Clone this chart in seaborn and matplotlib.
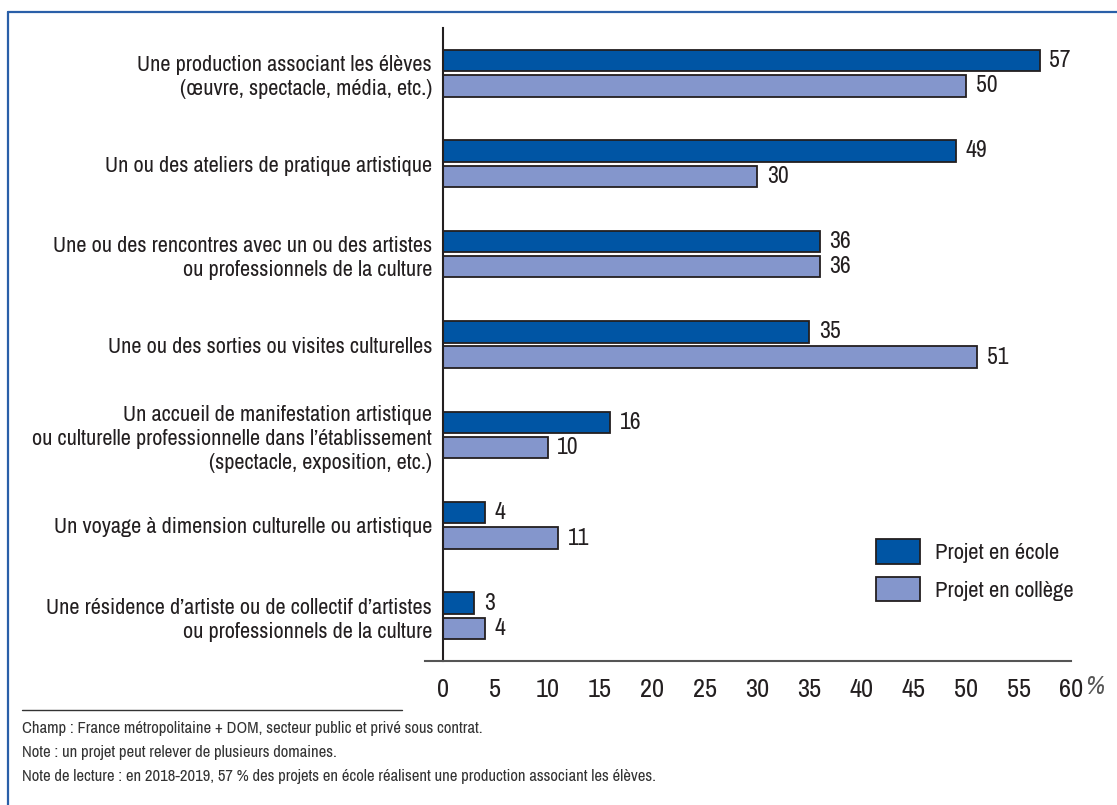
import matplotlib
matplotlib.use("Agg")
import matplotlib.pyplot as plt
import seaborn as sns
import pandas as pd
from matplotlib.patches import Patch
from matplotlib.lines import Line2D
from matplotlib import font_manager

sns.set_theme(style="white")

# find a condensed face if any
cond_family, cond_stretch = None, "normal"
for f in font_manager.fontManager.ttflist:
    n = f.name.lower()
    if "narrow" in n or "condensed" in n:
        cond_family = f.name
        break
if cond_family is None:
    for f in font_manager.fontManager.ttflist:
        if str(f.stretch) in ("condensed", "semi-condensed", "extra-condensed", "ultra-condensed") \
                or (isinstance(f.stretch, int) and f.stretch < 500):
            cond_family, cond_stretch = f.name, f.stretch
            break

if cond_family:
    FONT = cond_family
    sizes = dict(lab=16, tick=19, val=17, leg=16.3, note=12)
else:
    FONT = "DejaVu Sans"
    sizes = dict(lab=11.6, tick=13.5, val=12, leg=13, note=9)
plt.rcParams['font.family'] = [FONT, 'DejaVu Sans']
plt.rcParams['font.stretch'] = cond_stretch

categories = [
    "Une production associant les élèves\n(œuvre, spectacle, média, etc.)",
    "Un ou des ateliers de pratique artistique",
    "Une ou des rencontres avec un ou des artistes\nou professionnels de la culture",
    "Une ou des sorties ou visites culturelles",
    "Un accueil de manifestation artistique\nou culturelle professionnelle dans l’établissement\n(spectacle, exposition, etc.)",
    "Un voyage à dimension culturelle ou artistique",
    "Une résidence d’artiste ou de collectif d’artistes\nou professionnels de la culture",
]
series_names = ["Projet en école", "Projet en collège"]
ecole = [57, 49, 36, 35, 16, 4, 3]
college = [50, 30, 36, 51, 10, 11, 4]
x_ticks = list(range(0, 61, 5))
notes = [
    "Champ : France métropolitaine + DOM, secteur public et privé sous contrat.",
    "Note : un projet peut relever de plusieurs domaines.",
    "Note de lecture : en 2018-2019, 57 % des projets en école réalisent une production associant les élèves.",
]

colors = ["#0055a4", "#8496cc"]
ink = "#231f20"

df = pd.DataFrame({
    "cat": categories * 2,
    "val": ecole + college,
    "serie": [series_names[0]] * len(categories) + [series_names[1]] * len(categories),
})

fig = plt.figure(figsize=(11.17, 8.05), dpi=100)
ax = fig.add_axes([443/1117, 1-661/805, 628/1117, 633/805])

sns.barplot(data=df, y="cat", x="val", hue="serie", order=categories,
            hue_order=series_names, palette=colors, saturation=1, orient="h",
            width=0.56, gap=0.15, edgecolor=ink, linewidth=1.3,
            legend=False, ax=ax)

for cont in ax.containers:
    ax.bar_label(cont, padding=7, fontsize=sizes["val"], color=ink)

ax.set_xlim(0, 60)
ax.set_ylim(len(categories) - 0.5, -0.5)
ax.set_xticks(x_ticks)
ax.set_xticklabels([str(t) for t in x_ticks], fontsize=sizes["tick"], color=ink)
ax.set_xlabel("")
ax.set_ylabel("")
ax.tick_params(axis="y", which="major", length=0, pad=8, labelsize=sizes["lab"], labelcolor=ink)
ax.set_yticks([i - 0.5 for i in range(len(categories) + 1)], minor=True)
ax.tick_params(axis="y", which="minor", length=8, width=1.2, color=ink, direction="out")
ax.tick_params(axis="x", which="major", length=8, width=1.2, color=ink, direction="out", pad=4)
for lbl in ax.get_yticklabels():
    lbl.set_multialignment("right")
    lbl.set_linespacing(1.25)
for s in ["top", "right"]:
    ax.spines[s].set_visible(False)
ax.spines["left"].set_color(ink)
ax.spines["left"].set_linewidth(1.5)
ax.spines["bottom"].set_color("#555555")
ax.spines["bottom"].set_linewidth(1.5)
ax.spines["bottom"].set_bounds(-1.7, 60)
ax.grid(False)

ax.text(1.022, -0.022, "%", transform=ax.transAxes, fontsize=sizes["tick"], color="#555555",
        ha="left", va="top", style="italic")

handles = [Patch(facecolor=c, edgecolor=ink, linewidth=1.3) for c in colors]
ax.legend(handles, series_names, loc="upper left", bbox_to_anchor=(0.69, 0.192),
          frameon=False, fontsize=sizes["leg"], handlelength=1.95, handleheight=1.3,
          labelspacing=0.55, handletextpad=0.65, borderpad=0, borderaxespad=0,
          labelcolor=ink)

# footnotes
fig.add_artist(Line2D([22/1117, 402/1117], [1-710/805, 1-710/805], color="#333333", lw=1))
for i, t in enumerate(notes):
    fig.text(22/1117, 1-(728 + 24*i)/805, t, fontsize=sizes["note"], color="#333333",
             ha="left", va="center")

# blue frame (top and left)
fig.add_artist(Line2D([8/1117, 1], [1-12/805, 1-12/805], color="#2a5fa8", lw=1.6))
fig.add_artist(Line2D([8/1117, 8/1117], [0, 1-12/805], color="#2a5fa8", lw=1.6))

fig.savefig("out.png", dpi=100)
